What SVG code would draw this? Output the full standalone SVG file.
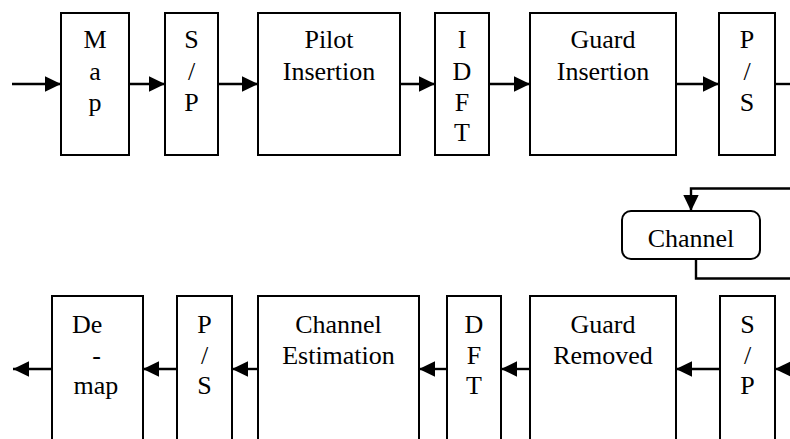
<svg xmlns="http://www.w3.org/2000/svg" width="790" height="439" viewBox="0 0 790 439">
  <style>
    .box { fill: #fff; stroke: #000; stroke-width: 2; }
    .lbl { font-size: 26px; fill: #000; text-anchor: middle; }
    .wire { fill: none; stroke: #000; stroke-width: 2.4; }
  </style>
  <defs>
    <marker id="head" viewBox="0 0 16 16" refX="16" refY="8" markerWidth="16" markerHeight="16" markerUnits="userSpaceOnUse" orient="auto">
      <path d="M0,0.3 L16,8 L0,15.7 z" fill="#000"/>
    </marker>
  </defs>

  <g font-family="'Liberation Serif', 'DejaVu Serif', 'Times New Roman', serif">
  <!-- transmitter chain -->
  <g id="map">
    <rect class="box" x="61" y="13" width="68" height="142"/>
    <text class="lbl" x="95" y="48">M</text>
    <text class="lbl" x="95" y="80">a</text>
    <text class="lbl" x="95" y="111">p</text>
  </g>
  <g id="sp-tx">
    <rect class="box" x="165" y="13" width="53" height="142"/>
    <text class="lbl" x="191.5" y="48">S</text>
    <text class="lbl" x="191.5" y="80">/</text>
    <text class="lbl" x="191.5" y="111">P</text>
  </g>
  <g id="pilot-insertion">
    <rect class="box" x="258" y="13" width="142" height="142"/>
    <text class="lbl" x="329" y="48">Pilot</text>
    <text class="lbl" x="329" y="80">Insertion</text>
  </g>
  <g id="idft">
    <rect class="box" x="435" y="13" width="54" height="142"/>
    <text class="lbl" x="462" y="48">I</text>
    <text class="lbl" x="462" y="80">D</text>
    <text class="lbl" x="462" y="111">F</text>
    <text class="lbl" x="462" y="141">T</text>
  </g>
  <g id="guard-insertion">
    <rect class="box" x="530" y="13" width="146" height="142"/>
    <text class="lbl" x="603" y="48">Guard</text>
    <text class="lbl" x="603" y="80">Insertion</text>
  </g>
  <g id="ps-tx">
    <rect class="box" x="719" y="13" width="56" height="142"/>
    <text class="lbl" x="747" y="48">P</text>
    <text class="lbl" x="747" y="80">/</text>
    <text class="lbl" x="747" y="111">S</text>
  </g>

  <!-- channel -->
  <g id="channel">
    <rect class="box" x="622" y="211" width="138" height="48" rx="9" ry="9"/>
    <text class="lbl" x="691" y="246.5">Channel</text>
  </g>

  <!-- receiver chain -->
  <g id="demap">
    <rect class="box" x="52" y="296" width="91" height="160"/>
    <text class="lbl" x="72" y="332.5" style="text-anchor:start">De</text>
    <text class="lbl" x="96.5" y="363.5">-</text>
    <text class="lbl" x="96" y="394">map</text>
  </g>
  <g id="ps-rx">
    <rect class="box" x="177" y="296" width="55" height="160"/>
    <text class="lbl" x="204.5" y="332.5">P</text>
    <text class="lbl" x="204.5" y="363.5">/</text>
    <text class="lbl" x="204.5" y="394">S</text>
  </g>
  <g id="channel-estimation">
    <rect class="box" x="258" y="296" width="161" height="160"/>
    <text class="lbl" x="338.5" y="333">Channel</text>
    <text class="lbl" x="338.5" y="363.5">Estimation</text>
  </g>
  <g id="dft">
    <rect class="box" x="447" y="296" width="54" height="160"/>
    <text class="lbl" x="474" y="332.5">D</text>
    <text class="lbl" x="474" y="363.5">F</text>
    <text class="lbl" x="474" y="394">T</text>
  </g>
  <g id="guard-removed">
    <rect class="box" x="530" y="296" width="146" height="160"/>
    <text class="lbl" x="603" y="333">Guard</text>
    <text class="lbl" x="603" y="363.5">Removed</text>
  </g>
  <g id="sp-rx">
    <rect class="box" x="720" y="296" width="55" height="160"/>
    <text class="lbl" x="747.5" y="332.5">S</text>
    <text class="lbl" x="747.5" y="363.5">/</text>
    <text class="lbl" x="747.5" y="394">P</text>
  </g>
  </g>

  <!-- connectors -->
  <g id="connectors">
    <line class="wire" x1="12" y1="84" x2="61" y2="84" marker-end="url(#head)"/>
    <line class="wire" x1="129" y1="84" x2="165" y2="84" marker-end="url(#head)"/>
    <line class="wire" x1="218" y1="84" x2="258" y2="84" marker-end="url(#head)"/>
    <line class="wire" x1="400" y1="84" x2="435" y2="84" marker-end="url(#head)"/>
    <line class="wire" x1="489" y1="84" x2="530" y2="84" marker-end="url(#head)"/>
    <line class="wire" x1="676" y1="84" x2="719" y2="84" marker-end="url(#head)"/>
    <line class="wire" x1="775" y1="84" x2="792" y2="84"/>

    <polyline class="wire" points="792,188.5 691,188.5 691,211" marker-end="url(#head)"/>
    <polyline class="wire" points="696,259 696,278.5 792,278.5"/>

    <line class="wire" x1="792" y1="369" x2="775" y2="369" marker-end="url(#head)"/>
    <line class="wire" x1="720" y1="369" x2="676" y2="369" marker-end="url(#head)"/>
    <line class="wire" x1="530" y1="369" x2="501" y2="369" marker-end="url(#head)"/>
    <line class="wire" x1="447" y1="369" x2="419" y2="369" marker-end="url(#head)"/>
    <line class="wire" x1="258" y1="369" x2="232" y2="369" marker-end="url(#head)"/>
    <line class="wire" x1="177" y1="369" x2="143" y2="369" marker-end="url(#head)"/>
    <line class="wire" x1="52" y1="369" x2="13" y2="369" marker-end="url(#head)"/>
  </g>
</svg>
